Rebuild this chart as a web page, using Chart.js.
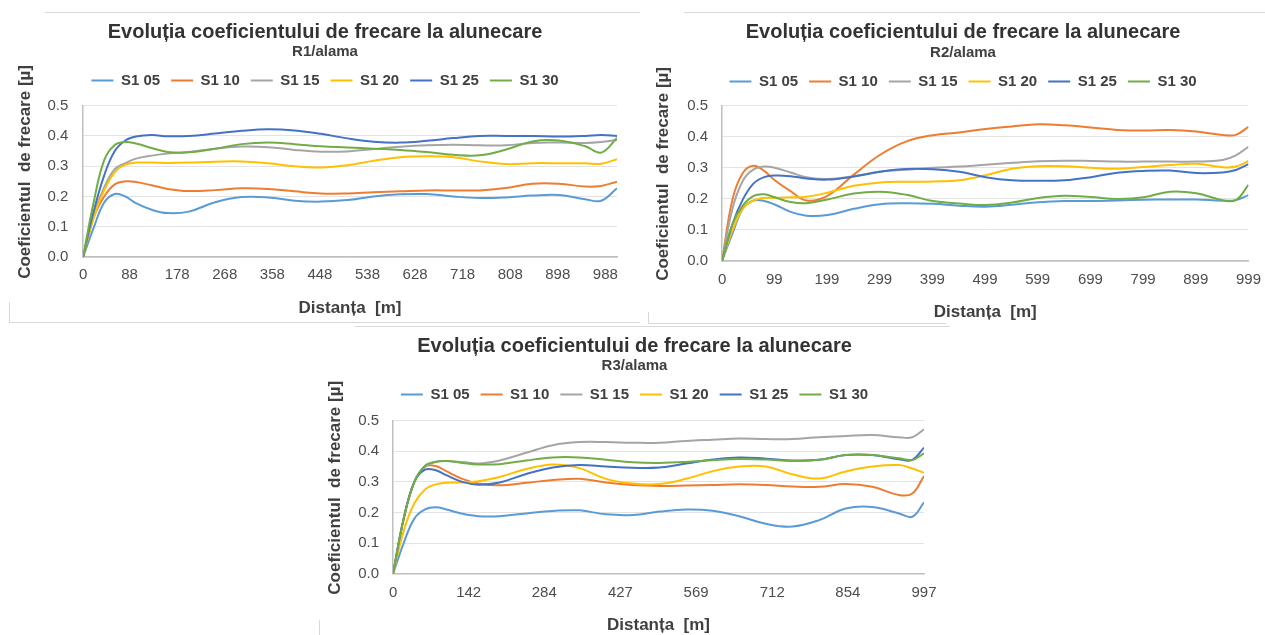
<!DOCTYPE html>
<html lang="ro">
<head>
<meta charset="utf-8">
<title>Evoluția coeficientului de frecare la alunecare</title>
<script src="https://cdn.jsdelivr.net/npm/chart.js@4.4.1/dist/chart.umd.min.js"></script>
<style>
	html, body { margin: 0; padding: 0; background: #fff; }
	body { width: 1265px; height: 635px; position: relative; overflow: hidden; }
	.box { position: absolute; }
	.ln { position: absolute; background: #d9d9d9; }
</style>
</head>
<body>

<!-- ramele imaginilor lipite -->
<div class="ln" style="left:45px;top:12px;width:595px;height:1px"></div>
<div class="ln" style="left:9px;top:322px;width:631px;height:1px"></div>
<div class="ln" style="left:9px;top:302px;width:1px;height:20px"></div>
<div class="ln" style="left:684px;top:12px;width:581px;height:1px"></div>
<div class="ln" style="left:648px;top:323px;width:298px;height:1px"></div>
<div class="ln" style="left:648px;top:312px;width:1px;height:11px"></div>
<div class="ln" style="left:355px;top:326px;width:595px;height:1px"></div>
<div class="ln" style="left:319px;top:620px;width:1px;height:15px"></div>

<div class="box" style="left:10px;top:12px;width:630px;height:310px"><canvas id="chartR1"></canvas></div>
<div class="box" style="left:648px;top:12px;width:623px;height:313px"><canvas id="chartR2"></canvas></div>
<div class="box" style="left:319px;top:325px;width:631px;height:310px"><canvas id="chartR3"></canvas></div>

<script>
"use strict"

const seriesNames = ['S1 05', 'S1 10', 'S1 15', 'S1 20', 'S1 25', 'S1 30'];
const seriesColors = ['#5B9BD5', '#ED7D31', '#A5A5A5', '#FFC000', '#4472C4', '#70AD47'];

// R1/alama
const distR1 = [0, 20, 40, 60, 80, 100, 130, 160, 200, 250, 300, 350, 400, 450, 500, 550, 600, 650, 700, 750, 800, 850, 900, 950, 980, 1010];
const ticksR1 = [0, 88, 178, 268, 358, 448, 538, 628, 718, 808, 898, 988];
const r1s05 = [0, 0.096, 0.18, 0.208, 0.2, 0.178, 0.156, 0.145, 0.15, 0.181, 0.198, 0.197, 0.186, 0.183, 0.188, 0.2, 0.207, 0.208, 0.2, 0.195, 0.197, 0.203, 0.205, 0.191, 0.186, 0.227];
const r1s10 = [0, 0.13, 0.2, 0.24, 0.25, 0.248, 0.237, 0.225, 0.218, 0.221, 0.227, 0.225, 0.217, 0.21, 0.21, 0.214, 0.217, 0.22, 0.22, 0.22, 0.228, 0.242, 0.242, 0.233, 0.235, 0.249];
const r1s15 = [0, 0.14, 0.23, 0.29, 0.31, 0.325, 0.335, 0.342, 0.347, 0.358, 0.365, 0.363, 0.354, 0.348, 0.349, 0.357, 0.364, 0.369, 0.371, 0.369, 0.369, 0.377, 0.378, 0.377, 0.38, 0.387];
const r1s20 = [0, 0.13, 0.22, 0.28, 0.305, 0.312, 0.312, 0.311, 0.312, 0.315, 0.316, 0.31, 0.3, 0.296, 0.303, 0.318, 0.33, 0.333, 0.33, 0.316, 0.307, 0.31, 0.31, 0.31, 0.308, 0.323];
const r1s25 = [0, 0.15, 0.27, 0.35, 0.385, 0.398, 0.403, 0.399, 0.4, 0.408, 0.417, 0.422, 0.418, 0.407, 0.392, 0.381, 0.378, 0.384, 0.393, 0.4, 0.4, 0.4, 0.398, 0.4, 0.403, 0.4];
const r1s30 = [0, 0.18, 0.32, 0.37, 0.38, 0.375, 0.36, 0.347, 0.346, 0.358, 0.373, 0.378, 0.373, 0.366, 0.362, 0.358, 0.354, 0.347, 0.338, 0.336, 0.355, 0.382, 0.385, 0.366, 0.345, 0.393];

// R2/alama
const distR2 = [0, 20, 40, 60, 80, 100, 130, 160, 200, 250, 300, 350, 400, 450, 500, 550, 600, 650, 700, 750, 800, 850, 900, 950, 975, 999];
const ticksR2 = [0, 99, 199, 299, 399, 499, 599, 699, 799, 899, 999];
const r2s05 = [0, 0.09, 0.17, 0.195, 0.193, 0.182, 0.158, 0.146, 0.148, 0.168, 0.183, 0.186, 0.184, 0.178, 0.175, 0.181, 0.189, 0.193, 0.193, 0.195, 0.197, 0.198, 0.198, 0.194, 0.196, 0.212];
const r2s10 = [0, 0.2, 0.285, 0.307, 0.29, 0.26, 0.225, 0.195, 0.21, 0.278, 0.342, 0.385, 0.405, 0.414, 0.425, 0.433, 0.44, 0.437, 0.43, 0.422, 0.42, 0.422, 0.417, 0.406, 0.406, 0.432];
const r2s15 = [0, 0.17, 0.26, 0.295, 0.304, 0.3, 0.285, 0.27, 0.264, 0.273, 0.288, 0.294, 0.3, 0.304, 0.31, 0.316, 0.321, 0.323, 0.322, 0.32, 0.32, 0.32, 0.32, 0.325, 0.34, 0.368];
const r2s20 = [0, 0.1, 0.17, 0.195, 0.203, 0.203, 0.205, 0.207, 0.22, 0.242, 0.253, 0.255, 0.256, 0.26, 0.276, 0.297, 0.305, 0.305, 0.3, 0.297, 0.303, 0.309, 0.313, 0.302, 0.304, 0.322];
const r2s25 = [0, 0.12, 0.2, 0.25, 0.27, 0.275, 0.273, 0.266, 0.262, 0.272, 0.287, 0.296, 0.295, 0.287, 0.27, 0.26, 0.258, 0.26, 0.27, 0.284, 0.29, 0.291, 0.283, 0.285, 0.293, 0.312];
const r2s30 = [0, 0.12, 0.18, 0.21, 0.215, 0.205, 0.19, 0.186, 0.198, 0.217, 0.223, 0.213, 0.193, 0.185, 0.18, 0.188, 0.203, 0.21, 0.206, 0.2, 0.205, 0.223, 0.218, 0.196, 0.196, 0.245];

// R3/alama
const distR3 = [0, 20, 40, 60, 80, 100, 130, 160, 200, 250, 300, 350, 400, 450, 500, 550, 600, 650, 700, 750, 800, 850, 900, 950, 975, 997];
const ticksR3 = [0, 142, 284, 427, 569, 712, 854, 997];
const r3s05 = [0, 0.1, 0.18, 0.21, 0.217, 0.21, 0.196, 0.188, 0.188, 0.197, 0.205, 0.207, 0.194, 0.192, 0.203, 0.21, 0.206, 0.188, 0.163, 0.154, 0.175, 0.213, 0.218, 0.197, 0.186, 0.233];
const r3s10 = [0, 0.18, 0.3, 0.35, 0.352, 0.335, 0.31, 0.295, 0.289, 0.297, 0.306, 0.31, 0.298, 0.29, 0.287, 0.288, 0.29, 0.292, 0.29, 0.285, 0.284, 0.293, 0.284, 0.257, 0.262, 0.319];
const r3s15 = [0, 0.18, 0.3, 0.35, 0.365, 0.368, 0.365, 0.36, 0.37, 0.395, 0.42, 0.43, 0.43, 0.428, 0.428, 0.434, 0.438, 0.442, 0.44, 0.44, 0.446, 0.45, 0.453, 0.446, 0.446, 0.472];
const r3s20 = [0, 0.14, 0.23, 0.275, 0.292, 0.297, 0.298, 0.302, 0.316, 0.342, 0.357, 0.345, 0.31, 0.295, 0.293, 0.31, 0.335, 0.35, 0.35, 0.325, 0.311, 0.334, 0.35, 0.355, 0.344, 0.33];
const r3s25 = [0, 0.18, 0.3, 0.34, 0.338, 0.322, 0.3, 0.291, 0.298, 0.326, 0.347, 0.355, 0.35, 0.346, 0.347, 0.36, 0.373, 0.38, 0.376, 0.37, 0.372, 0.388, 0.388, 0.374, 0.372, 0.412];
const r3s30 = [0, 0.18, 0.3, 0.353, 0.366, 0.368, 0.362, 0.357, 0.358, 0.37, 0.38, 0.38, 0.372, 0.364, 0.362, 0.365, 0.371, 0.375, 0.373, 0.368, 0.372, 0.388, 0.388, 0.377, 0.372, 0.393];

const yTicks = [0, 0.1, 0.2, 0.3, 0.4, 0.5];

const fontFamily = '"Liberation Sans", Arial, sans-serif';
const darkText = '#404040';
const grayText = '#4d4d4d';

function makeChart(id, subtitle, dist, series, xTicks, xMax, lay) {
	const datasets = series.map((vals, i) => ({
		label: seriesNames[i],
		data: dist.map((d, k) => ({ x: d, y: vals[k] })),
		borderColor: seriesColors[i],
		backgroundColor: seriesColors[i],
		borderWidth: 2,
		pointRadius: 0,
		tension: 0.4,
		fill: false,
		order: series.length - i // ultima serie desenata deasupra, ca in Excel
	}));

	return new Chart(document.getElementById(id), {
		type: 'line',
		data: { datasets: datasets },
		options: {
			responsive: true,
			maintainAspectRatio: false,
			animation: false,
			layout: { padding: { left: lay.left, right: lay.right, top: 0, bottom: 0 } },
			plugins: {
				title: {
					display: true,
					text: 'Evoluția coeficientului de frecare la alunecare',
					color: '#333',
					font: { family: fontFamily, size: 20, weight: 'bold' },
					padding: { top: lay.titleTop, bottom: lay.titleBottom }
				},
				subtitle: {
					display: true,
					text: subtitle,
					color: darkText,
					font: { family: fontFamily, size: 15, weight: 'bold' },
					padding: { top: 0, bottom: lay.subBottom }
				},
				legend: {
					display: true,
					labels: {
						usePointStyle: true,
						pointStyle: 'line',
						pointStyleWidth: 22,
						padding: 11,
						color: darkText,
						font: { family: fontFamily, size: 15, weight: 'bold' },
						sort: (a, b) => a.datasetIndex - b.datasetIndex
					}
				},
				tooltip: { enabled: false }
			},
			scales: {
				x: {
					type: 'linear',
					min: 0,
					max: xMax,
					afterBuildTicks: axis => { axis.ticks = xTicks.map(v => ({ value: v })); },
					ticks: {
						autoSkip: false,
						maxRotation: 0,
						padding: lay.xTickPad,
						color: grayText,
						font: { family: fontFamily, size: 15 },
						callback: v => String(v)
					},
					grid: { display: false, drawTicks: false },
					border: { display: true, color: '#bfbfbf', width: 1.5 },
					title: {
						display: true,
						text: 'Distanța  [m]',
						color: darkText,
						font: { family: fontFamily, size: 17, weight: 'bold' },
						padding: { top: lay.xTitleTop, bottom: lay.xTitleBottom }
					}
				},
				y: {
					min: 0,
					max: 0.5,
					afterBuildTicks: axis => { axis.ticks = yTicks.map(v => ({ value: v })); },
					ticks: {
						padding: lay.yTickPad,
						color: grayText,
						font: { family: fontFamily, size: 15 },
						callback: v => v.toFixed(1)
					},
					grid: { color: '#e3e3e3', lineWidth: 1, drawTicks: false },
					border: { display: true, color: '#bfbfbf', width: 1.5 },
					title: {
						display: true,
						// spatiile de la inceput urca titlul putin, ca in original
						text: '    Coeficientul  de frecare [µ]',
						color: darkText,
						font: { family: fontFamily, size: 17, weight: 'bold' },
						padding: { top: lay.yTitleTop, bottom: lay.yTitleBottom }
					}
				}
			}
		},
		plugins: [{
			// spatiu sub legenda
			id: 'legendGap',
			beforeInit(chart) {
				const fit = chart.legend.fit;
				chart.legend.fit = function () {
					fit.bind(chart.legend)();
					this.height += lay.legendGap;
				};
			}
		}]
	});
}

makeChart('chartR1', 'R1/alama', distR1, [r1s05, r1s10, r1s15, r1s20, r1s25, r1s30], ticksR1, 1010, {
	left: 23, right: 23, titleTop: 8, titleBottom: -1, subBottom: 1, legendGap: 7.7,
	xTickPad: 9, xTitleTop: 4.8, xTitleBottom: 3.8,
	yTickPad: 14.7, yTitleTop: -18.2, yTitleBottom: -2.4
});

makeChart('chartR2', 'R2/alama', distR2, [r2s05, r2s10, r2s15, r2s20, r2s25, r2s30], ticksR2, 999, {
	left: 7, right: 0, titleTop: 8, titleBottom: 0, subBottom: 1, legendGap: 6.7,
	xTickPad: 10, xTitleTop: 2.8, xTitleBottom: 2.8,
	yTickPad: 14, yTitleTop: -2.2, yTitleBottom: 0
});

makeChart('chartR3', 'R3/alama', distR3, [r3s05, r3s10, r3s15, r3s20, r3s25, r3s30], ticksR3, 997, {
	left: 26, right: 26, titleTop: 9, titleBottom: -1, subBottom: 1, legendGap: 8.7,
	xTickPad: 10.3, xTitleTop: 2.5, xTitleBottom: -0.2,
	yTickPad: 14, yTitleTop: -20.2, yTitleBottom: -1
});
</script>
</body>
</html>
